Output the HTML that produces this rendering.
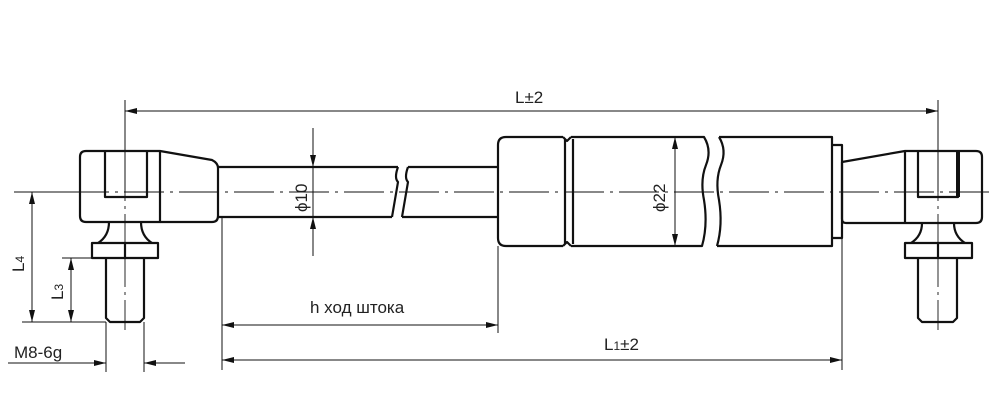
<!DOCTYPE html>
<html><head><meta charset="utf-8"><style>
body{margin:0;background:#fff}
svg{display:block}
text{font-family:"Liberation Sans",sans-serif;fill:#222}
</style></head><body>
<svg width="1000" height="410" viewBox="0 0 1000 410" xmlns="http://www.w3.org/2000/svg">
<defs>
<marker id="a" viewBox="0 0 12 6" refX="12" refY="3" markerWidth="12" markerHeight="6" orient="auto-start-reverse" markerUnits="userSpaceOnUse"><path d="M0,0 L12,3 L0,6 Z" fill="#111"/></marker>
</defs>
<g stroke="#111" fill="none" stroke-width="1">
<!-- centerlines -->
<path d="M14 192 H990" stroke-dasharray="40 6 3 6" stroke-width="0.9"/>
<path d="M125 128 V330 M938 128 V330" stroke-dasharray="30 5 3 5" stroke-width="0.9"/>
<!-- L dim -->
<path d="M125 100 V192 M938 100 V192"/>
<path d="M125 111 H938" marker-start="url(#a)" marker-end="url(#a)"/>
<!-- phi10 -->
<path d="M313 128 V167" marker-end="url(#a)"/>
<path d="M313 167 V217"/>
<path d="M313 256 V217" marker-end="url(#a)"/>
<!-- phi22 -->
<path d="M675 137 V246" marker-start="url(#a)" marker-end="url(#a)"/>
<!-- extension lines -->
<path d="M222 217 V370 M498 246 V333 M842 238 V370"/>
<path d="M222 325 H498" marker-start="url(#a)" marker-end="url(#a)"/>
<path d="M222 360 H842" marker-start="url(#a)" marker-end="url(#a)"/>
<!-- left dims -->
<path d="M22 192 H80 M22 322 H106 M62 258 H92"/>
<path d="M32 192 V322" marker-start="url(#a)" marker-end="url(#a)"/>
<path d="M71 258 V322" marker-start="url(#a)" marker-end="url(#a)"/>
<path d="M106 322 V372 M144 322 V372"/>
<path d="M8 363 H106" marker-end="url(#a)"/>
<path d="M185 363 H144" marker-end="url(#a)"/>
</g>
<g stroke="#111" fill="none" stroke-width="2.2" stroke-linejoin="round">
<!-- left fitting -->
<path d="M86 151 H160 V222 H86 Q80 222 80 216 V157 Q80 151 86 151 Z"/>
<path d="M105 151 V197 H147 V151"/>
<path d="M160 151 L212 160 Q218 163 218 168 V216 Q218 222 212 222 H160"/>
<path d="M109 222 Q109 236 98 243 M141 222 Q141 236 152 243"/>
<path d="M92 243 H158 V258 H92 Z M125 243 V258"/>
<path d="M106 258 V318 L110 322 H140 L144 318 V258"/>
<!-- rod -->
<path d="M218 167 H398 M218 217 H392"/>
<path d="M398 167 Q394 178 398 182 L392 217"/>
<path d="M408 167 Q404 178 408 182 L402 217"/>
<path d="M408 167 H498 M402 217 H498"/>
<!-- cylinder -->
<path d="M498 145 Q498 137 506 137 H563 M506 246 Q498 246 498 238 V145"/>
<path d="M506 246 H563 M565 139 V244 M573 139 V244"/>
<path d="M563 137 L567 141 L571 137 M563 246 L567 242 L571 246"/>
<path d="M571 137 H704 Q712 150 706 165 Q700 180 704 200 Q708 225 702 246 H571"/>
<path d="M719 137 Q727 150 721 165 Q715 180 719 200 Q723 225 717 246"/>
<path d="M719 137 H832 V246 H717"/>
<path d="M832 145 H842 V238 H832"/>
<!-- right fitting -->
<path d="M842 162 L905 151 H976 Q982 151 982 157 V217 Q982 223 976 223 H846 Q842 223 842 219 Z"/>
<path d="M905 151 V223"/>
<path d="M918 151 V197 H958 V151"/>
<path d="M958 151 V197" stroke-width="4"/>
<path d="M922 223 Q922 236 911 243 M954 223 Q954 236 965 243"/>
<path d="M905 243 H972 V258 H905 Z M938 243 V258"/>
<path d="M918 258 V318 L922 322 H953 L957 318 V258"/>
</g>
<g font-size="17">
<text x="515" y="103">L±2</text>
<text x="310" y="313">h ход штока</text>
<text x="604" y="350">L<tspan font-size="12">1</tspan>±2</text>
<text x="14" y="358">M8-6g</text>
<text transform="translate(24,272) rotate(-90)">L<tspan font-size="12">4</tspan></text>
<text transform="translate(63,300) rotate(-90)">L<tspan font-size="12">3</tspan></text>
<text transform="translate(307,212) rotate(-90)">ϕ10</text>
<text transform="translate(665,212) rotate(-90)">ϕ22</text>
</g>
</svg>
</body></html>
